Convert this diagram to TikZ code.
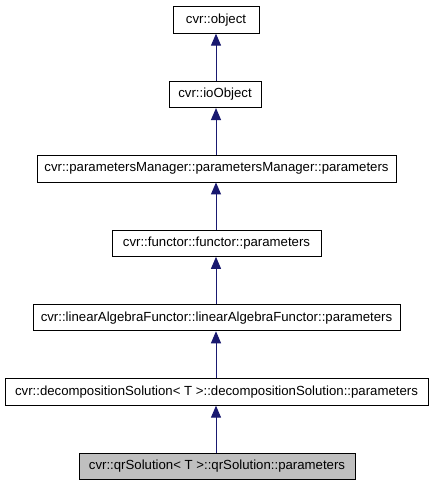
\documentclass[tikz,border=0pt]{standalone}
\usepackage{fontspec}
\setmainfont{Liberation Sans}
\usetikzlibrary{arrows.meta}
\definecolor{edgeblue}{HTML}{191970}
\definecolor{curfill}{HTML}{BFBFBF}
\begin{document}
\begin{tikzpicture}[x=1bp,y=-1bp,
  cls/.style={draw=black, line width=0.8bp, minimum height=26.5bp, inner sep=0pt, font=\fontsize{13.2bp}{15bp}\selectfont, anchor=center},
  inh/.style={draw=edgeblue, line width=1bp, -{Triangle[width=10bp,length=12bp]}, color=edgeblue}]
\useasboundingbox (0,0) rectangle (432,485);
\fill[white] (0,0) rectangle (432,485);
\node[cls, minimum width=86bp] (obj) at (216,20) {cvr::object};
\node[cls, minimum width=92bp] (io) at (215,94.4) {cvr::ioObject};
\node[cls, minimum width=359bp] (pm) at (216.5,168.8) {cvr::parametersManager::parametersManager::parameters};
\node[cls, minimum width=209bp] (fn) at (216.5,243.2) {cvr::functor::functor::parameters};
\node[cls, minimum width=367bp] (la) at (216.5,317.6) {cvr::linearAlgebraFunctor::linearAlgebraFunctor::parameters};
\node[cls, minimum width=423bp] (dc) at (216.5,392) {cvr::decompositionSolution< T >::decompositionSolution::parameters};
\node[cls, minimum width=276bp, fill=curfill] (qr) at (217,466.4) {cvr::qrSolution< T >::qrSolution::parameters};
\draw[inh] (io.north -| 216,0) -- (obj.south -| 216,0);
\draw[inh] (pm.north -| 216,0) -- (io.south -| 216,0);
\draw[inh] (fn.north -| 216,0) -- (pm.south -| 216,0);
\draw[inh] (la.north -| 216,0) -- (fn.south -| 216,0);
\draw[inh] (dc.north -| 216,0) -- (la.south -| 216,0);
\draw[inh] (qr.north -| 216,0) -- (dc.south -| 216,0);
\end{tikzpicture}
\end{document}
